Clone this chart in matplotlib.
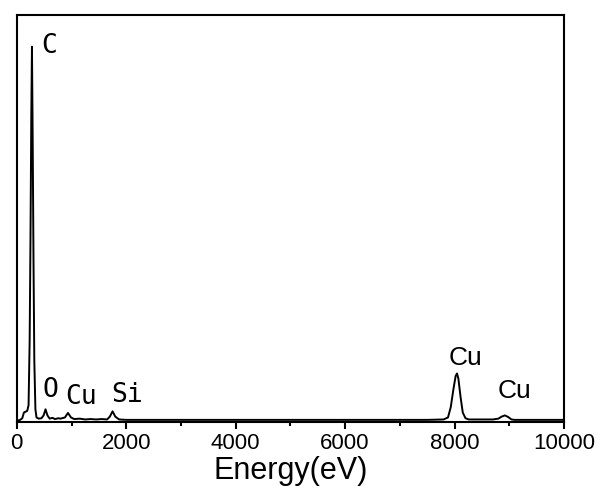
import matplotlib
matplotlib.use("Agg")
import matplotlib.pyplot as plt
from matplotlib.ticker import MultipleLocator

# EDS spectrum (energy in eV, counts in arbitrary units)
energy = [0, 50, 100, 130, 160, 190, 215, 235, 250, 265, 277, 290, 305, 320, 340,
          360, 400, 450, 490, 525, 560, 600, 650, 700, 760, 800, 880, 935, 990,
          1050, 1150, 1250, 1350, 1450, 1550, 1650, 1700, 1750, 1800, 1870, 2000,
          2300, 2700, 3000, 3500, 4000, 4500, 5000, 5500, 6000, 6500, 7000, 7500,
          7800, 7880, 7930, 7980, 8020, 8045, 8070, 8110, 8150, 8200, 8260, 8500,
          8700, 8800, 8860, 8920, 8980, 9040, 9100, 9500, 10000]
counts = [0.3, 0.3, 0.8, 2.2, 2.4, 2.6, 4.0, 20, 45, 75, 92.1, 70, 40, 15, 3.0,
          1.0, 0.7, 0.8, 1.5, 3.0, 1.5, 0.7, 0.9, 0.6, 0.8, 0.7, 1.0, 2.1, 1.0,
          0.6, 0.7, 0.5, 0.6, 0.5, 0.6, 0.5, 1.2, 2.5, 1.2, 0.5, 0.4,
          0.4, 0.4, 0.4, 0.4, 0.4, 0.4, 0.4, 0.4, 0.4, 0.4, 0.4, 0.4,
          0.5, 1.0, 3.5, 8.0, 11.2, 11.8, 10.5, 6.0, 2.2, 0.8, 0.5, 0.5,
          0.5, 0.7, 1.2, 1.5, 1.1, 0.5, 0.4, 0.4, 0.4]

# peak labels: text, x, y (baseline), font
peak_labels = ["C", "O", "Cu", "Si", "Cu", "Cu"]
label_x = [440, 470, 880, 1720, 7900, 8780]
label_y = [90.6, 6.1, 4.3, 4.9, 13.9, 5.8]
label_font = ["DejaVu Sans Mono"] * 4 + ["Liberation Sans"] * 2

fig = plt.figure(figsize=(6, 5), dpi=100)
ax = fig.add_axes([0.028, 0.157, 0.912, 0.814])

ax.plot(energy, counts, color="black", linewidth=1.4)

for t, x, y, f in zip(peak_labels, label_x, label_y, label_font):
    ax.text(x, y, t, fontsize=19, family=f, ha="left", va="baseline")

ax.set_xlim(0, 10000)
ax.set_ylim(0, 100)
ax.xaxis.set_major_locator(MultipleLocator(2000))
ax.xaxis.set_minor_locator(MultipleLocator(1000))
ax.tick_params(axis="x", which="major", direction="out", length=5, width=1.5,
               labelsize=16, pad=3)
ax.tick_params(axis="x", which="minor", direction="out", length=3, width=1.5)
ax.set_yticks([])
for lab in ax.get_xticklabels():
    lab.set_family("Liberation Sans")
for s in ax.spines.values():
    s.set_linewidth(1.5)

ax.set_xlabel("Energy(eV)", fontsize=22, family="Liberation Sans", labelpad=2)

fig.savefig("out.png", dpi=100)
